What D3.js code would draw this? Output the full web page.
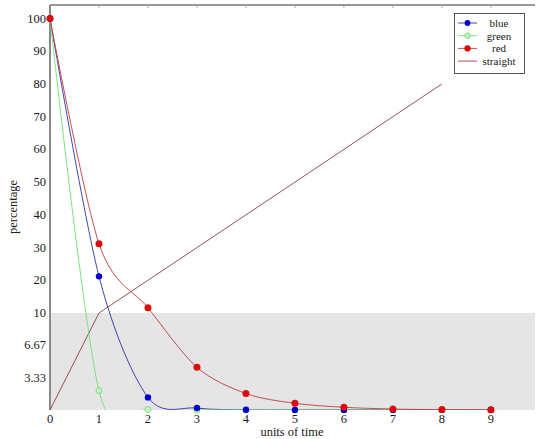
<!DOCTYPE html>
<html><head><meta charset="utf-8">
<script src="https://cdn.jsdelivr.net/npm/d3@7"></script>
<style>body{margin:0;background:#fff}svg{display:block;font-family:"Liberation Serif","DejaVu Serif",serif}</style>
</head><body><svg id="c" width="540" height="439"></svg>
<script>
const times = [0,1,2,3,4,5,6,7,8,9];
const blueVals  = [100,21.2,1.3,0.2,0.02,0.01,0.01,0.01,0.01,0.01];
const greenVals = [100,2.0,0.05,0,0,0,0,0,0,0];
const redVals   = [100,31.2,11.6,4.4,1.7,0.69,0.28,0.1,0.04,0.02];
const straightX = [0,1,2,3,4,5,6,7,8];
const straightVals = [0,10,20,30,40,50,60,70,80];
const yTicks = [3.33,6.67,10,20,30,40,50,60,70,80,90,100];
const yTickLabels = ["3.33","6.67","10","20","30","40","50","60","70","80","90","100"];
const xTicks = [0,1,2,3,4,5,6,7,8,9];
const legendNames = ["blue","green","red","straight"];

(function(){
const svg = d3.select("#c");
const x = d3.scaleLinear().domain([0,9.9]).range([50,535]);
const y = d3.scaleLinear().domain([0,10,100]).range([410,313,18.5]);
const plotTop = 5, plotBottom = 410;

svg.append("defs").append("clipPath").attr("id","clip")
  .append("rect").attr("x",50).attr("y",plotTop).attr("width",485).attr("height",plotBottom-plotTop);

// gray band 0..10
svg.append("rect").attr("x",x(0)).attr("y",y(10)).attr("width",x(9.9)-x(0)).attr("height",y(0)-y(10)).attr("fill","#e5e5e5");

// top axis line & ticks
svg.append("line").attr("x1",50).attr("x2",535).attr("y1",plotTop).attr("y2",plotTop).attr("stroke","#333").attr("stroke-width",1);
svg.selectAll(".tt").data(xTicks).join("line").attr("x1",d=>x(d)).attr("x2",d=>x(d)).attr("y1",plotTop).attr("y2",plotTop+3).attr("stroke","#999").attr("stroke-width",0.8);

// left axis
svg.append("line").attr("x1",50).attr("x2",50).attr("y1",plotTop).attr("y2",plotBottom).attr("stroke","#8a8a8a").attr("stroke-width",2);

// labels
svg.selectAll(".yl").data(yTicks).join("text").attr("x",46).attr("y",d=>y(d)+4).attr("text-anchor","end").attr("font-size",12.5).attr("fill","#1a1a1a").text((d,i)=>yTickLabels[i]);
svg.selectAll(".xl").data(xTicks).join("text").attr("x",d=>x(d)).attr("y",423).attr("text-anchor","middle").attr("font-size",12.5).attr("fill","#1a1a1a").text(d=>d);
svg.append("text").attr("x",292).attr("y",436).attr("text-anchor","middle").attr("font-size",12.5).attr("fill","#1a1a1a").text("units of time");
svg.append("text").attr("transform","translate(17,207) rotate(-90)").attr("text-anchor","middle").attr("font-size",12.5).attr("fill","#1a1a1a").text("percentage");

const g = svg.append("g").attr("clip-path","url(#clip)");
const smooth = d3.line().x(d=>x(d[0])).y(d=>y(d[1])).curve(d3.curveCardinal.tension(0.1));
const straightLine = d3.line().x(d=>x(d[0])).y(d=>y(d[1]));

const series = [
  {vals:blueVals, line:"#3030a8", mark:"#0000d0", r:3.2},
  {vals:greenVals, line:"#70e070", mark:"#8fe88f", r:3, hollow:true},
  {vals:redVals, line:"#c43a3a", mark:"#dd0a0a", r:3.5}
];
g.append("path").datum(straightX.map((t,i)=>[t,straightVals[i]])).attr("d",straightLine).attr("fill","none").attr("stroke","#8e3f3f").attr("stroke-width",0.9);
series.forEach(s=>{
  g.append("path").datum(times.map((t,i)=>[t,s.vals[i]])).attr("d",smooth).attr("fill","none").attr("stroke",s.line).attr("stroke-width",0.9);
});
// markers: green first so blue and red sit on top of it
[series[1],series[0],series[2]].forEach(s=>{
  const m = svg.append("g");
  m.selectAll("circle").data(times.map((t,i)=>[t,s.vals[i]])).join("circle")
    .attr("cx",d=>x(d[0])).attr("cy",d=>y(d[1])).attr("r",s.r)
    .attr("fill",s.hollow?"#c8f5c8":s.mark).attr("stroke",s.hollow?"#70dd70":"none").attr("stroke-width",1)
    .attr("opacity",s.hollow?0.8:1);
});

// legend
const lg = svg.append("g");
lg.append("rect").attr("x",454.5).attr("y",13.5).attr("width",70).attr("height",60).attr("fill","#fff").attr("stroke","#444").attr("stroke-width",0.9);
const ly = [23,35.7,48.4,61.1];
const lcol = ["#3030a8","#70e070","#c43a3a","#8e3f3f"];
legendNames.forEach((n,i)=>{
  lg.append("line").attr("x1",458).attr("x2",477).attr("y1",ly[i]).attr("y2",ly[i]).attr("stroke",lcol[i]).attr("stroke-width",0.9);
  if(i<3){
    const s = series[i];
    lg.append("circle").attr("cx",467.5).attr("cy",ly[i]).attr("r",s.r*0.9).attr("fill",s.hollow?"#c8f5c8":s.mark).attr("stroke",s.hollow?"#70dd70":"none");
  }
  lg.append("text").attr("x",499).attr("y",ly[i]+4).attr("text-anchor","middle").attr("font-size",11).attr("fill","#1a1a1a").text(n);
});
})();
</script></body></html>
